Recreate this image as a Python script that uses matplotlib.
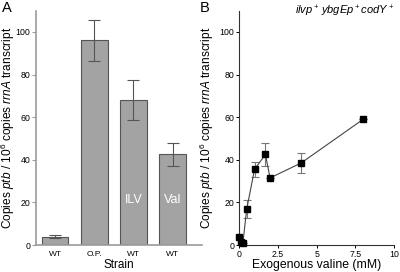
import matplotlib
matplotlib.use('Agg')
import matplotlib.pyplot as plt
import numpy as np

plt.rcParams['font.family'] = ['Liberation Sans', 'DejaVu Sans']
plt.rcParams['mathtext.fontset'] = 'custom'
plt.rcParams['mathtext.it'] = 'Liberation Sans:italic'
plt.rcParams['mathtext.rm'] = 'Liberation Sans'

# %% data, panel A
strains = ['WT', 'O.P.', 'WT', 'WT']
inside = ['', '', 'ILV', 'Val']
bar_vals = [4, 96, 68, 42.5]
bar_err = [0.5, 9.8, 9.5, 5.5]

# %% data, panel B
valine = [0, 0.1, 0.25, 0.5, 1.0, 1.7, 2.0, 4.0, 8.0]
ptb = [4, 1.5, 1, 17, 35.5, 42.5, 31.5, 38.5, 59]
ptb_err = [0, 0, 0, 4.2, 3.5, 5.2, 0, 4.5, 0]

ylab = r'Copies $\it{ptb}$ / 10$^6$ copies $\it{rrnA}$ transcript'

fig = plt.figure(figsize=(4, 2.72), dpi=100)
axA = fig.add_axes([0.09, 0.099, 0.415, 0.862])
axB = fig.add_axes([0.5975, 0.099, 0.388, 0.862])

# %% panel A
grey = '#9a9a9a'
x = np.arange(len(strains))
axA.bar(x, bar_vals, width=0.68, color='#a3a3a3', edgecolor='#555555', linewidth=0.8)
axA.errorbar(x, bar_vals, yerr=bar_err, fmt='none', ecolor='#555555', elinewidth=0.8,
             capsize=4, capthick=0.8)
for xi, t in zip(x, inside):
    if t:
        axA.text(xi, 21, t, color='white', ha='center', va='center', fontsize=9)
axA.set_xlim(-0.49, 3.75)
axA.set_ylim(0, 110)
axA.set_xticks(x)
axA.set_xticklabels(strains, fontsize=6)
axA.set_yticks([0, 20, 40, 60, 80, 100])
axA.tick_params(axis='x', length=0, pad=4)
axA.tick_params(axis='y', length=3, width=0.8, color=grey, labelsize=6.3, pad=1)
axA.set_xlabel('Strain', fontsize=8.5, labelpad=1)
axA.set_ylabel(ylab, fontsize=8.6)
axA.yaxis.set_label_coords(-0.115, 0.5)
for s in ['top', 'right']:
    axA.spines[s].set_visible(False)
for s in ['left', 'bottom']:
    axA.spines[s].set_color(grey)
    axA.spines[s].set_linewidth(1.2)

# %% panel B
axB.errorbar(valine, ptb, yerr=ptb_err, fmt='none', ecolor='#777777', elinewidth=0.8,
             capsize=3, capthick=0.8, zorder=2)
axB.plot(valine, ptb, '-', color='#444444', lw=0.8, zorder=3)
axB.plot(valine, ptb, 's', color='black', ms=4.5, zorder=4, clip_on=False)
axB.set_xlim(0, 10)
axB.set_ylim(0, 110)
axB.set_xticks([0, 2.5, 5, 7.5, 10])
axB.set_xticklabels(['0', '2.5', '5', '7.5', '10'])
axB.set_yticks([0, 20, 40, 60, 80, 100])
axB.tick_params(length=2.5, width=0.7, labelsize=6.3, pad=1)
axB.set_xlabel('Exogenous valine (mM)', fontsize=8.8, labelpad=0)
axB.set_ylabel(ylab, fontsize=8.6)
axB.yaxis.set_label_coords(-0.15, 0.5)
for s in ['top', 'right']:
    axB.spines[s].set_visible(False)
for s in ['left', 'bottom']:
    axB.spines[s].set_color('#333333')
    axB.spines[s].set_linewidth(0.8)
axB.text(1.0, 0.995, r'$\it{ilvp}^+\,\it{ybgEp}^+\it{codY}^+$', transform=axB.transAxes,
         ha='right', va='center', fontsize=8)

fig.text(0.005, 0.995, 'A', fontsize=10.5, va='top', ha='left')
fig.text(0.5, 0.995, 'B', fontsize=10.5, va='top', ha='left')

fig.savefig('out.png', dpi=100)
